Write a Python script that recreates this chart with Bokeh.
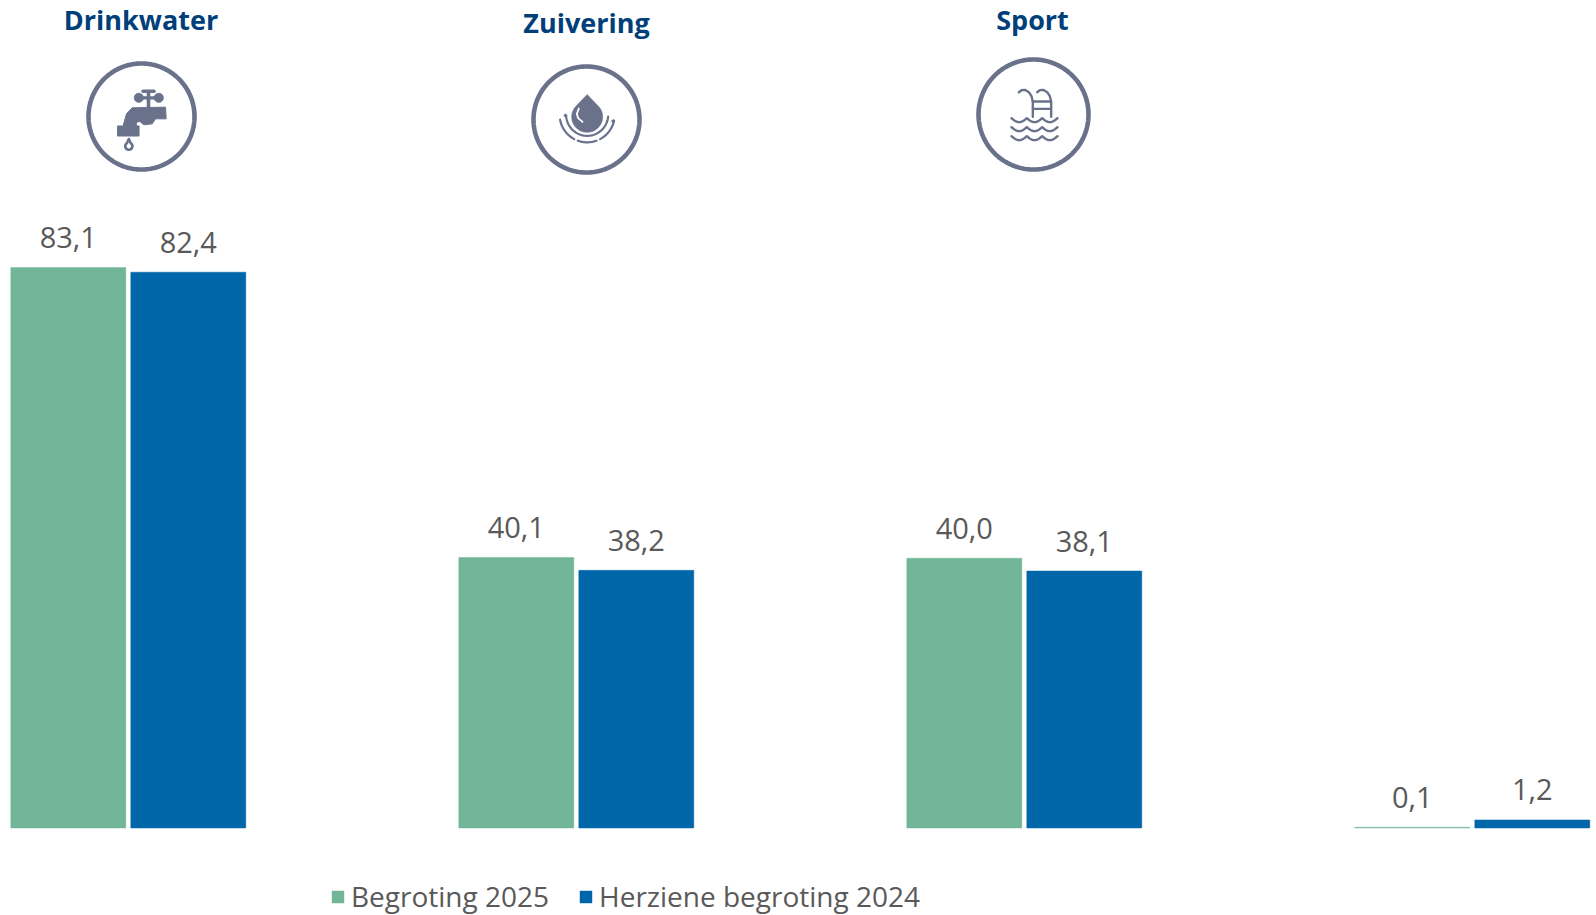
import numpy as np
from bokeh.plotting import figure
from bokeh.models import Range1d, Legend, LegendItem, ColumnDataSource
from bokeh.core.properties import value
from bokeh.embed import file_html
from bokeh.resources import INLINE

categories = ["Drinkwater", "Zuivering", "Sport", ""]
begroting_2025 = [83.1, 40.1, 40.0, 0.1]
herziene_2024 = [82.4, 38.2, 38.1, 1.2]
labels_2025 = ["83,1", "40,1", "40,0", "0,1"]
labels_2024 = ["82,4", "38,2", "38,1", "1,2"]
series_names = ["Begroting 2025", "Herziene begroting 2024"]

GREEN, BLUE, NAVY, ICON, GREY = "#72B597", "#0066AA", "#003F7A", "#69728A", "#595959"
FONT = "Open Sans"
W, H = 1596, 915
PX_X = 448.0        # pixels per category
PX_Y = 6.745        # pixels per unit
X0, Y0 = 127.8, 827.5  # first group centre, baseline (page pixels)

x_range = Range1d((0 - X0) / PX_X, (W - X0) / PX_X)
y_range = Range1d((Y0 - H) / PX_Y, Y0 / PX_Y)
p = figure(width=W, height=H, x_range=x_range, y_range=y_range, output_backend="svg",
           toolbar_location=None, min_border=0, outline_line_color=None,
           background_fill_color="white", border_fill_color="white")
p.axis.visible = False
p.grid.visible = False
p.extra_x_ranges["px"] = Range1d(0, W)
p.extra_y_ranges["px"] = Range1d(H, 0)

bar_w = 115 / PX_X
dodge = 60 / PX_X
idx = np.arange(len(categories), dtype=float)
src_a = ColumnDataSource(dict(x=idx - dodge, top=begroting_2025, label=labels_2025))
src_b = ColumnDataSource(dict(x=idx + dodge, top=herziene_2024, label=labels_2024))
r_a = p.vbar(x="x", top="top", bottom=0, width=bar_w, source=src_a, fill_color=GREEN,
             line_color=GREEN, line_alpha=0.45, line_width=1)
r_b = p.vbar(x="x", top="top", bottom=0, width=bar_w, source=src_b, fill_color=BLUE,
             line_color=BLUE, line_alpha=0.45, line_width=1)
for s in (src_a, src_b):
    p.text(x="x", y="top", text="label", source=s, text_align="center", text_baseline="middle",
           y_offset=-30, text_color=GREY, text_font=value(FONT), text_font_size="29px")

# headers
hx = [140.5, 586, 1032]
hy = [18.5, 21.5, 18.5]
p.text(x=hx, y=hy, text=categories[:3], x_range_name="px", y_range_name="px",
       text_align="center", text_baseline="middle", text_color=NAVY,
       text_font=value(FONT), text_font_style="bold", text_font_size="27px")

# icons (page pixels)
def P(xs, ys, **k):
    return p.patch(xs, ys, x_range_name="px", y_range_name="px", **k)
def L(xs, ys, w=1.6, c=ICON):
    return p.line(xs, ys, x_range_name="px", y_range_name="px", line_color=c, line_width=w,
                  line_cap="round", line_join="round")
def ring(cx, cy, r, w=4):
    t = np.linspace(0, 2 * np.pi, 181)
    L(cx + r * np.cos(t), cy + r * np.sin(t), w)
def disc(cx, cy, r, c=ICON):
    t = np.linspace(0, 2 * np.pi, 61)
    P(cx + r * np.cos(t), cy + r * np.sin(t), fill_color=c, line_color=c, line_width=0.5)
def arc(cx, cy, r, a0, a1, w=1.8):
    t = np.radians(np.linspace(a0, a1, 50))
    L(cx + r * np.cos(t), cy + r * np.sin(t), w)

ring(141, 116, 53, 4.6)
ring(586, 119, 53, 4.6)
ring(1033, 114, 55, 4.6)

# faucet
ox, oy = 100, 75
def c(v, o):
    return o + np.array(v, dtype=float) / 3
L([142.5, 153.5], [90.7, 90.7], 3.4)
disc(138.3, 97.3, 4.7); disc(158.3, 97.3, 4.7)
L([138, 158], [97.3, 97.3], 3.2)
L([148, 148], [92, 107], 3.6)
P(c([95, 195, 197, 165, 155, 130, 118, 108, 107, 68, 78], ox),
  c([97, 95, 130, 130, 145, 148, 138, 140, 152, 150, 115], oy),
  fill_color=ICON, line_color=ICON, line_width=1, line_join="round")
P(c([52, 115, 115, 52], ox), c([152, 152, 181, 181], oy), fill_color=ICON, line_color=ICON,
  line_width=1.5, line_join="round")
t = np.radians(np.linspace(-60, 240, 40))
L(np.r_[128.3, 128.3 + 3.6 * np.cos(t), 128.3], np.r_[138.5, 145.7 + 3.6 * np.sin(t), 138.5], 2.6)

# droplet
ox, oy = 546, 80
cx, cy = c(122, ox), c(103, oy)
t = np.radians(np.linspace(-42, 222, 60))
P(np.r_[cx, cx + 15.5 * np.cos(t)], np.r_[c(42, oy), cy + 2 + 15.5 * np.sin(t)],
  fill_color=ICON, line_color=ICON, line_width=0.5)
L(c([97, 91, 95, 108], ox), c([84, 100, 113, 124], oy), 1.8, "white")
arc(cx, cy, 21, 5, 175, 2.2)
arc(cx, cy, 27.5, 70, 110, 2.2)
arc(cx, cy, 27.5, 12, 62, 2.2)
arc(cx, cy, 27.5, 118, 170, 2.2)
disc(c(57, ox), c(105, oy), 1.5)
disc(c(200, ox), c(122, oy), 1.5)

# pool ladder
ox, oy = 995, 75
for dx in (0, 55):
    L(c(np.array([70, 78, 88, 100, 108, 112, 112]) + dx, ox), c([50, 44, 43, 50, 62, 78, 124], oy), 2.4)
for ry in (78, 100):
    L(c([112, 165], ox), c([ry, ry], oy), 2.4)
for wy in (128, 155, 182):
    s = np.linspace(0, 3, 121)
    L(c(48 + s * 46, ox), c(wy + 12 * np.abs(np.sin(np.pi * s)), oy), 2.4)

legend = Legend(items=[LegendItem(label=series_names[0], renderers=[r_a]),
                       LegendItem(label=series_names[1], renderers=[r_b])],
                orientation="horizontal", location=(330, 0), padding=0, margin=0, spacing=29,
                glyph_width=15, glyph_height=15, label_standoff=6,
                background_fill_alpha=0, border_line_color=None,
                label_text_font=FONT, label_text_font_size="28px", label_text_color=GREY,
                label_height=20)
p.add_layout(legend)

open("out.html", "w").write(file_html(p, INLINE))
